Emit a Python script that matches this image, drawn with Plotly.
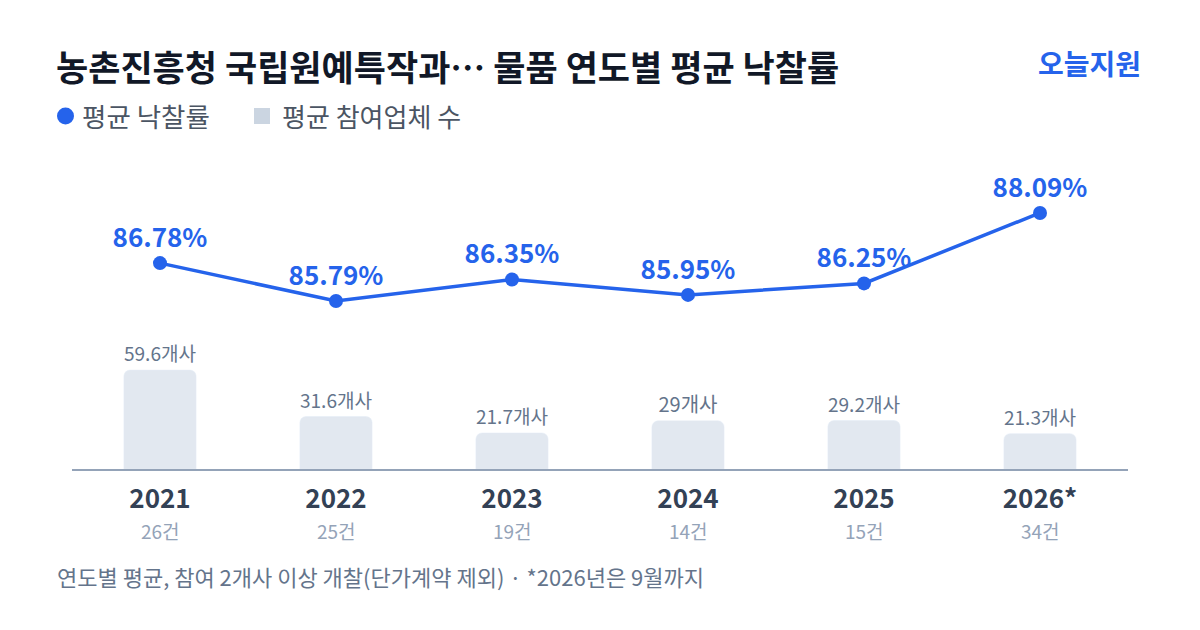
import plotly.graph_objects as go

years = ["2021", "2022", "2023", "2024", "2025", "2026*"]
counts = ["26건", "25건", "19건", "14건", "15건", "34건"]
rates = [86.78, 85.79, 86.35, 85.95, 86.25, 88.09]
bidders = [59.6, 31.6, 21.7, 29.0, 29.2, 21.3]

FONT = "Noto Sans CJK KR"
BLUE = "#2563eb"

# page offset (browser body margin) -> plot area in page pixels: x 72..1128, y 150..469
OFF = 8
PX0, PX1, PY0, PY1 = 72, 1128, 150, 469


def px(x):
    return (x - PX0) / (PX1 - PX0)


def py(y):
    return (PY1 - y) / (PY1 - PY0)


fig = go.Figure()
fig.add_trace(go.Bar(
    x=years, y=bidders, yaxis="y",
    marker=dict(color="#e2e8f0", cornerradius=6),
    width=0.41,
    text=[f"{v:g}개사" for v in bidders],
    textposition="outside",
    textfont=dict(family=FONT, size=20, color="#64748b"),
    cliponaxis=False,
    showlegend=False,
))
fig.add_trace(go.Scatter(
    x=years, y=rates, yaxis="y2",
    mode="lines+markers+text",
    line=dict(color=BLUE, width=3.5),
    marker=dict(color=BLUE, size=14),
    text=[f"<b>{v:.2f}%</b>" for v in rates],
    textposition="top center",
    textfont=dict(family=FONT, size=26, color=BLUE),
    cliponaxis=False,
    showlegend=False,
))

fig.add_annotation(text="<b>농촌진흥청 국립원예특작과… 물품 연도별 평균 낙찰률</b>",
                   xref="paper", yref="paper", x=px(54), y=py(65),
                   xanchor="left", yanchor="middle", showarrow=False,
                   font=dict(family=FONT, size=35, color="#111827"))
fig.add_annotation(text="<b>오늘지원</b>", xref="paper", yref="paper", x=px(1143), y=py(63),
                   xanchor="right", yanchor="middle", showarrow=False,
                   font=dict(family=FONT, size=28, color=BLUE))

# legend
fig.add_shape(type="circle", xref="paper", yref="paper",
              x0=px(57), x1=px(74), y0=py(124.5), y1=py(107.5),
              fillcolor=BLUE, line=dict(width=0))
fig.add_annotation(text="평균 낙찰률", xref="paper", yref="paper", x=px(80), y=py(115),
                   xanchor="left", yanchor="middle", showarrow=False,
                   font=dict(family=FONT, size=26.5, color="#4b5563"))
fig.add_shape(type="rect", xref="paper", yref="paper",
              x0=px(254), x1=px(270), y0=py(124), y1=py(108),
              fillcolor="#cbd5e1", line=dict(width=0))
fig.add_annotation(text="평균 참여업체 수", xref="paper", yref="paper", x=px(280), y=py(115),
                   xanchor="left", yanchor="middle", showarrow=False,
                   font=dict(family=FONT, size=26, color="#4b5563"))

# counts under years
for i, c in enumerate(counts):
    fig.add_annotation(text=c, x=i, xref="x", yref="paper", y=py(530),
                       yanchor="middle", showarrow=False,
                       font=dict(family=FONT, size=19, color="#94a3b8"))

fig.add_annotation(text="연도별 평균, 참여 2개사 이상 개찰(단가계약 제외) · *2026년은 9월까지",
                   xref="paper", yref="paper", x=px(55), y=py(576),
                   xanchor="left", yanchor="middle", showarrow=False,
                   font=dict(family=FONT, size=22, color="#64748b"))

W, H = 1200 - 2 * OFF, 630 - 2 * OFF
fig.update_layout(
    width=W, height=H,
    margin=dict(l=PX0 - OFF, r=W - (PX1 - OFF), t=PY0 - OFF, b=H - (PY1 - OFF), pad=0),
    paper_bgcolor="white", plot_bgcolor="white",
    font=dict(family=FONT),
    xaxis=dict(
        type="category",
        range=[-0.5, 5.5],
        tickvals=years,
        ticktext=[f"<b>{y}</b>" for y in years],
        tickfont=dict(family=FONT, size=26, color="#334155"),
        showline=True, linecolor="#94a3b8", linewidth=2,
        ticks="", showgrid=False, zeroline=False,
        ticklabelstandoff=6,
    ),
    yaxis=dict(range=[0, 192.2], visible=False, showgrid=False, zeroline=False),
    yaxis2=dict(range=[81.404, 89.733], overlaying="y", visible=False,
                showgrid=False, zeroline=False),
)

fig.write_html("out.html")
